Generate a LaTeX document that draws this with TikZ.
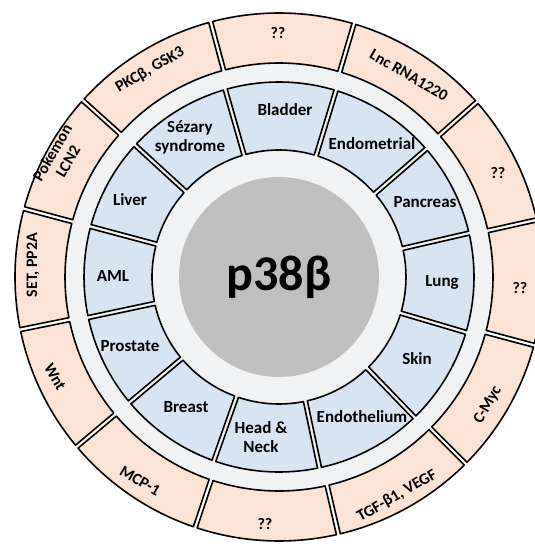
\documentclass[tikz,border=0pt]{standalone}
\usepackage{fontspec}
\setmainfont{Carlito}
\usepackage{xcolor}
\usepackage{tikz}
\usetikzlibrary{positioning}

\definecolor{ringblue}{HTML}{D8E4F2}
\definecolor{ringpeach}{HTML}{FBE3D6}
\definecolor{bandgrey}{HTML}{F1F2F4}
\definecolor{coregrey}{HTML}{BFBFBF}

\begin{document}
\begin{tikzpicture}[x=1pt, y=1pt,
        seg/.style={draw=black, line width=1.6pt, line join=round},
        inlabel/.style={align=center, inner sep=0pt, font=\fontsize{17}{19}\selectfont\bfseries},
        outlabel/.style={align=center, inner sep=0pt, font=\fontsize{16}{18}\selectfont\bfseries},
        core/.style={circle, fill=coregrey, minimum size=200pt, inner sep=0pt, font=\fontsize{50}{50}\selectfont\bfseries}
    ]

    \clip (-279,-267) rectangle (256,277);

    % Light band behind both rings
    \fill[bandgrey] (0,0) circle[radius=214];

    % Inner ring sectors (start/end angle), small gap between neighbours
    \foreach \s/\e in {-16.5/13, 13/41, 41/73, 73/106, 106/137.5, 137.5/165,
            165/192, 192/220, 220/250.5, 250.5/282, 282/314, 314/343.5}{
        \pgfmathsetmacro{\di}{deg(2/127)}
        \pgfmathsetmacro{\do}{deg(2/195)}
        \draw[seg, fill=ringblue] ({\s+\di}:127) -- ({\s+\do}:195)
            arc[start angle={\s+\do}, end angle={\e-\do}, radius=195]
            -- ({\e-\di}:127)
            arc[start angle={\e-\di}, end angle={\s+\di}, radius=127] -- cycle;
    }

    % Outer ring sectors
    \foreach \s/\e in {-15/12.5, 12.5/41.5, 41.5/73.5, 73.5/105, 105/138, 138/165,
            165/191.5, 191.5/220, 220/251.5, 251.5/283, 283/315, 315/345}{
        \pgfmathsetmacro{\di}{deg(2/214)}
        \pgfmathsetmacro{\do}{deg(2/264)}
        \draw[seg, fill=ringpeach] ({\s+\di}:214) -- ({\s+\do}:264)
            arc[start angle={\s+\do}, end angle={\e-\do}, radius=264]
            -- ({\e-\di}:214)
            arc[start angle={\e-\di}, end angle={\s+\di}, radius=214] -- cycle;
    }

    % Centre
    \node[core] (core) at (0,0) {p38β};

    % Inner ring: tissues
    \foreach \x/\y/\txt/\nm in {6/167/Bladder/bladder, 93/133/Endometrial/endometrial,
            146/75/Pancreas/pancreas, 163/-5/Lung/lung, 138/-82/Skin/skin,
            83/-140/Endothelium/endothelium, -18/-160/{Head \&\\Neck}/headneck,
            -93/-130/Breast/breast, -149/-69/Prostate/prostate, -166/1/AML/aml,
            -149/77/Liver/liver, -89/140/{Sézary\\syndrome}/sezary}
        \node[inlabel] (\nm) at (\x,\y) {\txt};

    % Outer ring: partners
    \foreach \x/\y/\rot/\txt/\nm in {-1/244/0/??/q1, 130/202/-30/Lnc RNA1220/lnc,
            219/104/0/??/q2, 241/-11/0/??/q3, 209/-128/60/C-Myc/cmyc,
            118/-219/30/{TGF-β1, VEGF}/tgf, -14/-247/0/??/q4,
            -139/-204/-30/MCP-1/mcp, -224/-100/-60/Wnt/wnt,
            -246/12/90/{SET, PP2A}/set, -219/120/60/{Pokemon\\LCN2}/pokemon,
            -129/207/30/{PKCβ, GSK3}/pkc}
        \node[outlabel, rotate=\rot] (\nm) at (\x,\y) {\txt};

\end{tikzpicture}
\end{document}
